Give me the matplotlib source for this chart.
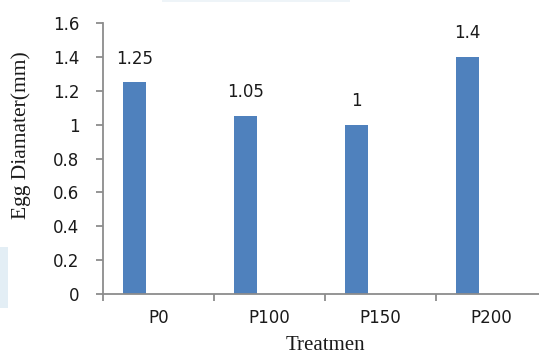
import matplotlib
matplotlib.use("Agg")
import matplotlib.pyplot as plt
from matplotlib.patches import Rectangle

# Egg diameter per treatment
treatments = ["P0", "P100", "P150", "P200"]
diameters = [1.25, 1.05, 1.0, 1.4]
value_labels = ["1.25", "1.05", "1", "1.4"]
y_ticks = [0, 0.2, 0.4, 0.6, 0.8, 1.0, 1.2, 1.4, 1.6]
y_tick_labels = ["0", "0.2", "0.4", "0.6", "0.8", "1", "1.2", "1.4", "1.6"]

bar_color = "#4f81bd"
axis_color = "#8c8c8c"
sans = "DejaVu Sans"
serif = "Liberation Serif"

fig = plt.figure(figsize=(5.39, 3.58), dpi=100)
fig.patch.set_facecolor("white")

# faint slide background showing at the edges
fig.patches.append(Rectangle((0.0, 0.14), 0.015, 0.17, transform=fig.transFigure,
                             facecolor="#e3eef5", edgecolor="none", zorder=0))
fig.patches.append(Rectangle((0.30, 0.994), 0.35, 0.006, transform=fig.transFigure,
                             facecolor="#eef4f8", edgecolor="none", zorder=0))

# plot area runs a little past the right edge
ax = fig.add_axes([103 / 539, 1 - 294 / 358, 444 / 539, 271 / 358])
ax.set_facecolor("none")

x = list(range(len(treatments)))
offset = -0.216
bar_x = [i + offset for i in x]
bars = ax.bar(bar_x, diameters, width=0.215, color=bar_color, zorder=2)

for bx, val, lab in zip(bar_x, diameters, value_labels):
    ax.annotate(lab, (bx, val), xytext=(0, 13.5), textcoords="offset points",
                ha="center", va="baseline", fontsize=12, family=sans, color="#1a1a1a")

ax.set_xlim(-0.5, len(treatments) - 0.5)
ax.set_ylim(0, 1.6)

for side in ["top", "right"]:
    ax.spines[side].set_visible(False)
for side in ["left", "bottom"]:
    ax.spines[side].set_color(axis_color)
    ax.spines[side].set_linewidth(1.3)

ax.set_yticks(y_ticks)
ax.set_yticklabels(y_tick_labels, fontsize=12, family=sans, color="#1a1a1a")
ax.tick_params(axis="y", direction="out", length=5, width=1.3, color=axis_color, pad=12)

# category boundaries get tick marks, centres get the labels
ax.set_xticks([i - 0.5 for i in range(len(treatments) + 1)])
ax.set_xticklabels([])
ax.tick_params(axis="x", which="major", direction="out", length=5, width=1.3, color=axis_color)
ax.set_xticks(x, minor=True)
ax.set_xticklabels(treatments, minor=True, fontsize=12, family=sans, color="#1a1a1a")
ax.tick_params(axis="x", which="minor", length=0, pad=11)

fig.text(325 / 539, 1 - 346 / 358, "Treatmen", ha="center", va="center",
         fontsize=15, family=serif, color="#1a1a1a")
fig.text(21 / 539, 1 - 135 / 358, "Egg Diamater(mm)", ha="center", va="center",
         rotation=90, fontsize=15.5, family=serif, color="#1a1a1a")

fig.savefig("out.png", dpi=100)
